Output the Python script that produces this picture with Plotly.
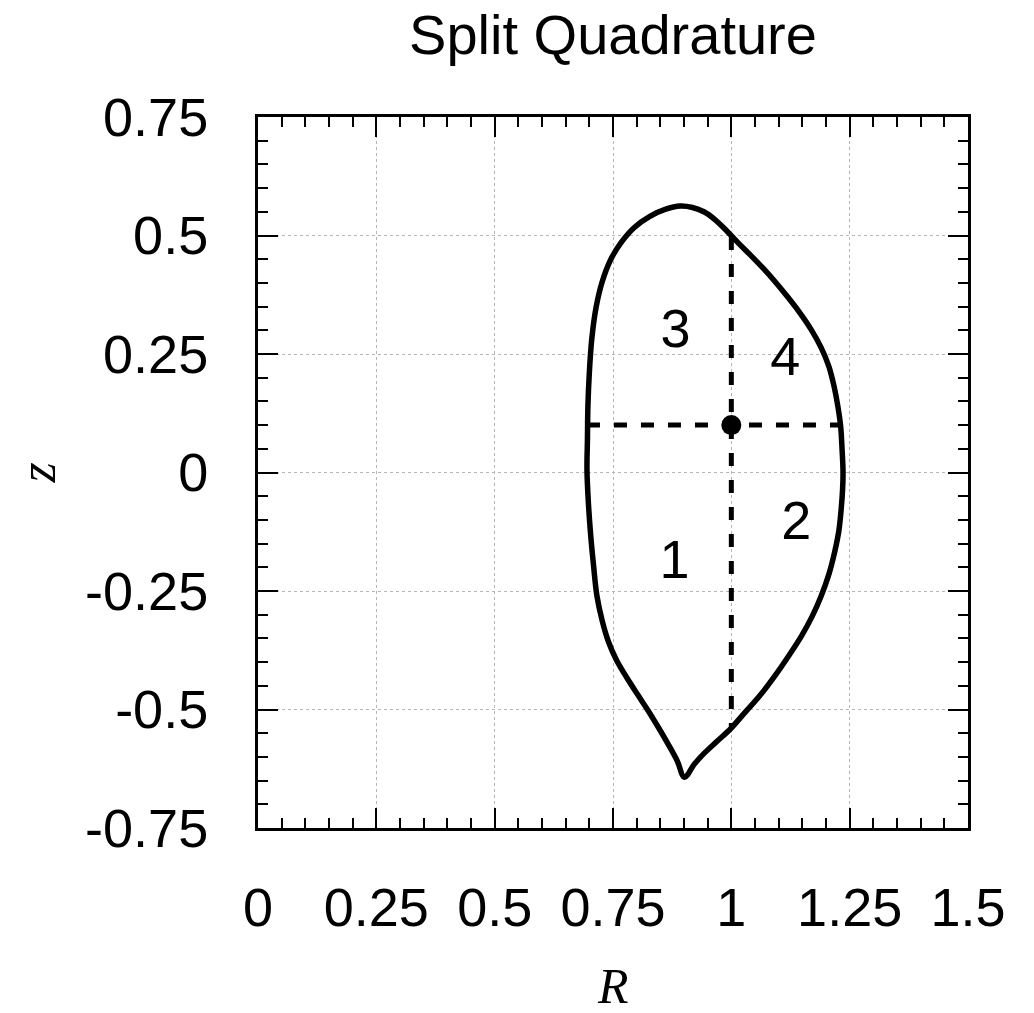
import plotly.graph_objects as go

# Plasma boundary (last closed flux surface), traced from the X-point up the
# inboard side, over the top, down the outboard side and back to the X-point
R_boundary = [0.901, 0.886, 0.867, 0.846, 0.824, 0.801, 0.778, 0.757, 0.740, 0.727,
              0.716, 0.709, 0.703, 0.698, 0.695, 0.696, 0.697, 0.700, 0.705, 0.714,
              0.727, 0.745, 0.767, 0.795, 0.827, 0.860, 0.892, 0.918, 0.942, 0.966,
              0.991, 1.015, 1.041, 1.067, 1.093, 1.117, 1.141, 1.169, 1.190, 1.206,
              1.217, 1.225, 1.231, 1.234, 1.236, 1.235, 1.232, 1.227, 1.218, 1.206,
              1.190, 1.171, 1.148, 1.121, 1.092, 1.060, 1.029, 0.999, 0.971, 0.945,
              0.922, 0.901]
Z_boundary = [-0.643, -0.609, -0.574, -0.538, -0.502, -0.467, -0.431, -0.395, -0.356, -0.312,
              -0.260, -0.197, -0.134, -0.064, 0.006, 0.069, 0.140, 0.210, 0.280, 0.347,
              0.402, 0.449, 0.485, 0.517, 0.540, 0.555, 0.562, 0.559, 0.550, 0.533,
              0.509, 0.484, 0.458, 0.431, 0.402, 0.373, 0.342, 0.301, 0.263, 0.224,
              0.182, 0.140, 0.097, 0.048, 0.000, -0.036, -0.078, -0.124, -0.169, -0.215,
              -0.260, -0.303, -0.345, -0.387, -0.429, -0.471, -0.506, -0.540, -0.566, -0.590,
              -0.615, -0.643]

# Split point and the two cut lines through it
R_center = [1.0]
Z_center = [0.1]
R_cut_h = [0.695, 1.234]
Z_cut_h = [0.1, 0.1]
R_cut_v = [1.0, 1.0]
Z_cut_v = [0.497, -0.536]

# Quadrant labels
quad_labels = ["1", "2", "3", "4"]
R_quad = [0.880, 1.137, 0.882, 1.114]
Z_quad = [-0.195, -0.111, 0.293, 0.234]

# Axis ticks
R_ticks = [0, 0.25, 0.5, 0.75, 1, 1.25, 1.5]
R_tick_labels = ["0", "0.25", "0.5", "0.75", "1", "1.25", "1.5"]
Z_ticks = [-0.75, -0.5, -0.25, 0, 0.25, 0.5, 0.75]
Z_tick_labels = ["-0.75", "-0.5", "-0.25", "0", "0.25", "0.5", "0.75"]

SANS = "Liberation Sans, Arial, sans-serif"
SERIF = "Liberation Serif, Times New Roman, serif"

fig = go.Figure()

fig.add_trace(go.Scatter(
    x=R_cut_h, y=Z_cut_h, mode="lines",
    line=dict(color="black", width=5, dash="13px,14px"),
    hoverinfo="skip", showlegend=False))
fig.add_trace(go.Scatter(
    x=R_cut_v, y=Z_cut_v, mode="lines",
    line=dict(color="black", width=5, dash="13px,14px"),
    hoverinfo="skip", showlegend=False))
fig.add_trace(go.Scatter(
    x=R_boundary, y=Z_boundary, mode="lines",
    line=dict(color="black", width=5.5, shape="spline", smoothing=1.0,
              simplify=False),
    showlegend=False))
fig.add_trace(go.Scatter(
    x=R_center, y=Z_center, mode="markers",
    marker=dict(color="black", size=20),
    showlegend=False))
fig.add_trace(go.Scatter(
    x=R_quad, y=Z_quad, mode="text", text=quad_labels,
    textfont=dict(family=SANS, size=54, color="black"),
    showlegend=False))

axis_common = dict(
    tickmode="array",
    ticks="inside", ticklen=20, tickwidth=2, tickcolor="black",
    showline=True, linewidth=3, linecolor="black", mirror="allticks",
    showgrid=True, gridcolor="#b5b5b5", gridwidth=1, griddash="dot",
    zeroline=False,
    tickfont=dict(family=SANS, size=54, color="black"),
    minor=dict(dtick=0.05, tick0=0, ticks="inside", ticklen=10,
               tickwidth=2, tickcolor="black", showgrid=False),
)

fig.update_xaxes(range=[0, 1.5], tickvals=R_ticks, ticktext=R_tick_labels,
                 ticklabelstandoff=30, **axis_common)
fig.update_yaxes(range=[-0.75, 0.75], tickvals=Z_ticks, ticktext=Z_tick_labels,
                 ticklabelstandoff=36, **axis_common)

fig.update_layout(
    width=1034, height=1013,
    margin=dict(l=258, r=66, t=117, b=185),
    paper_bgcolor="white", plot_bgcolor="white",
    title=dict(text="Split Quadrature", x=0.5, xref="paper", xanchor="center",
               y=1 - 34 / 1013, yref="container", yanchor="middle",
               font=dict(family=SANS, size=56, color="black")),
    annotations=[
        dict(text="<i>R</i>", xref="paper", yref="paper", x=0.5, y=-0.222,
             xanchor="center", yanchor="middle", showarrow=False,
             font=dict(family=SERIF, size=50, color="black")),
        dict(text="<i>z</i>", xref="paper", yref="paper", x=-0.31, y=0.5,
             xanchor="center", yanchor="middle", showarrow=False, textangle=-90,
             font=dict(family=SERIF, size=52, color="black")),
    ],
)

fig.write_html("out.html")
